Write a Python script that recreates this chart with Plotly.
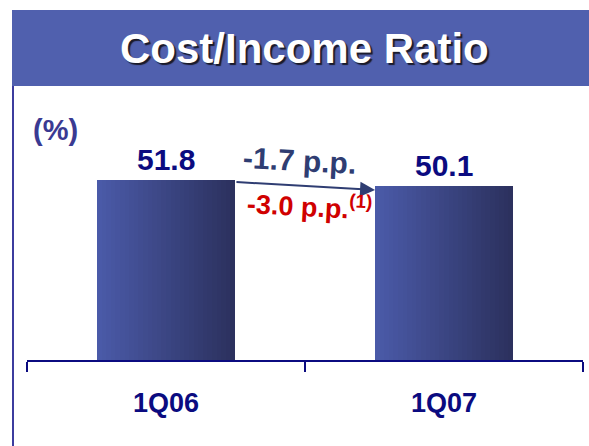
import plotly.graph_objects as go

categories = ["1Q06", "1Q07"]
values = [51.8, 50.1]
value_labels = ["51.8", "50.1"]
change_reported = "-1.7 p.p."
change_adjusted = "-3.0 p.p."
unit_label = "(%)"
title_text = "Cost/Income Ratio"

W, H = 589, 446
ML, MR, MT, MB = 27, 6, 100, 86
PW, PH = W - ML - MR, H - MT - MB
BAR_W = 0.496
N_SLICES = 30
C_LEFT = (0x4A, 0x5A, 0xA8)
C_RIGHT = (0x2C, 0x31, 0x5E)
FONT = "Liberation Sans, Arial"


def px(xp):
    return (xp - ML) / PW


def py(yp):
    return (H - MB - yp) / PH


fig = go.Figure()
for k in range(N_SLICES):
    t = k / (N_SLICES - 1)
    c = tuple(round(a + (b - a) * t) for a, b in zip(C_LEFT, C_RIGHT))
    fig.add_trace(go.Bar(
        x=categories, y=values,
        width=[BAR_W / N_SLICES * 1.03] * len(values),
        offset=[-BAR_W / 2 + k * BAR_W / N_SLICES] * len(values),
        marker=dict(color="rgb(%d,%d,%d)" % c, line=dict(width=0)),
        hoverinfo="skip", showlegend=False,
    ))

# value labels
for cat, v, lab in zip(categories, values, value_labels):
    fig.add_annotation(x=cat, y=v, text="<b>%s</b>" % lab, showarrow=False,
                       xanchor="center", yanchor="bottom", yshift=2,
                       font=dict(family=FONT, size=30, color="#0B0B80"))

# arrow from bar 1 right edge to bar 2 left edge
fig.add_annotation(x=1 - BAR_W / 2, y=values[1] - 1.2, ax=0 + BAR_W / 2, ay=values[0] - 0.6,
                   xref="x", yref="y", axref="x", ayref="y",
                   text="", showarrow=True, arrowhead=2, arrowsize=1.5, arrowwidth=2,
                   arrowcolor="#2F3D72", standoff=0)
fig.add_annotation(x=0.48, y=57.3, text="<b>%s</b>" % change_reported, showarrow=False,
                   xref="x", yref="y", xanchor="center", yanchor="middle", textangle=3,
                   font=dict(family=FONT, size=30, color="#2F3D72"))
fig.add_annotation(x=0.515, y=44.6, text="<b>%s<sup>(1)</sup></b>" % change_adjusted,
                   showarrow=False, xref="x", yref="y", xanchor="center", yanchor="middle", textangle=3,
                   font=dict(family=FONT, size=27, color="#D00000"))

# unit label
fig.add_annotation(x=px(55), y=py(130), xref="paper", yref="paper", text="<b>%s</b>" % unit_label,
                   xanchor="center", yanchor="middle",
                   showarrow=False, font=dict(family=FONT, size=29, color="#3A3A92"))

# title banner
fig.add_shape(type="rect", xref="paper", yref="paper", x0=px(12), x1=px(W + 2), y0=py(86), y1=py(10),
              fillcolor="#5060AE", line=dict(width=0), layer="below")
fig.add_shape(type="line", xref="paper", yref="paper", x0=px(13), x1=px(13), y0=py(H + 2), y1=py(86),
              line=dict(color="#3C3C9E", width=2))
fig.add_annotation(x=px(304), y=py(48), xref="paper", yref="paper",
                   xanchor="center", yanchor="middle",
                   text="<b>%s</b>" % title_text, showarrow=False,
                   font=dict(family=FONT, size=42, color="#FFFFFF",
                             shadow="2px 2px 1px #1A1A2A"))

fig.update_layout(
    width=W, height=H, barmode="overlay", bargap=0,
    margin=dict(l=ML, r=MR, t=MT, b=MB, autoexpand=False),
    paper_bgcolor="white", plot_bgcolor="white",
    xaxis=dict(type="category", showline=True, linecolor="#0B0B80", linewidth=2,
               ticks="outside", tickson="boundaries", ticklen=10, tickwidth=2, tickcolor="#0B0B80",
               showgrid=False, zeroline=False, ticklabelstandoff=18, automargin=False,
               tickfont=dict(family=FONT, size=27, color="#0B0B80"),
               tickvals=categories, ticktext=["<b>%s</b>" % c for c in categories],
               range=[-0.5, 1.5]),
    yaxis=dict(visible=False, range=[0, PH / 3.476]),
)

fig.write_html("out.html", config={"displayModeBar": False},
               post_script="document.body.style.margin='0px';")
